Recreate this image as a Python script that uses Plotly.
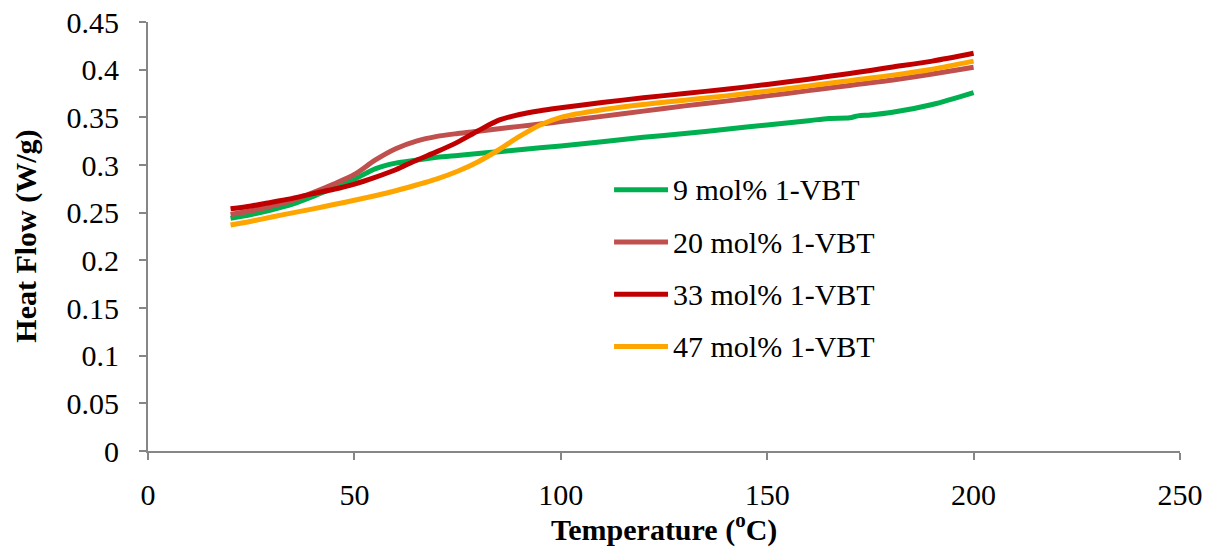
import plotly.graph_objects as go

# DSC heat-flow traces for four 1-VBT contents
temperature = [20, 25, 30, 35, 40, 45, 50, 55, 60, 65, 70, 75, 80, 85, 90, 95,
               100, 110, 120, 130, 140, 150, 160, 165, 170, 172, 175, 180, 190, 200]

hf_9 = [0.244, 0.248, 0.253, 0.259, 0.267, 0.276, 0.285, 0.296, 0.302, 0.305,
        0.308, 0.310, 0.312, 0.314, 0.316, 0.318, 0.320, 0.3245, 0.329, 0.333,
        0.3375, 0.342, 0.3465, 0.3488, 0.3495, 0.3515, 0.3525, 0.355, 0.3635, 0.376]

hf_20 = [0.248, 0.252, 0.257, 0.263, 0.271, 0.280, 0.290, 0.305, 0.317, 0.325,
         0.330, 0.333, 0.3355, 0.338, 0.3405, 0.343, 0.3455, 0.351, 0.3565, 0.362,
         0.367, 0.3725, 0.378, 0.3807, 0.3835, 0.3846, 0.3863, 0.389, 0.3955, 0.4025]

hf_33 = [0.254, 0.257, 0.261, 0.265, 0.270, 0.2745, 0.280, 0.287, 0.295, 0.305,
         0.314, 0.324, 0.336, 0.347, 0.353, 0.357, 0.360, 0.3655, 0.3705, 0.375,
         0.3795, 0.3845, 0.390, 0.393, 0.396, 0.3973, 0.3992, 0.4025, 0.409, 0.4172]

hf_47 = [0.237, 0.241, 0.2455, 0.2498, 0.254, 0.2585, 0.263, 0.2678, 0.273, 0.279,
         0.2855, 0.2935, 0.3035, 0.316, 0.330, 0.342, 0.350, 0.358, 0.3635, 0.368,
         0.3725, 0.3775, 0.383, 0.3857, 0.3885, 0.3896, 0.3913, 0.394, 0.4005, 0.409]

series_names = ["9 mol% 1-VBT", "20 mol% 1-VBT", "33 mol% 1-VBT", "47 mol% 1-VBT"]
series_values = [hf_9, hf_20, hf_33, hf_47]
series_colors = ["#00B050", "#C0504D", "#C00000", "#FFA500"]

x_ticks = [0, 50, 100, 150, 200, 250]
y_ticks = [0, 0.05, 0.1, 0.15, 0.2, 0.25, 0.3, 0.35, 0.4, 0.45]
y_tick_text = ["0", "0.05", "0.1", "0.15", "0.2", "0.25", "0.3", "0.35", "0.4", "0.45"]

x_title = "<b>Temperature (<sup>o</sup>C)</b>"
y_title = "<b>Heat Flow (W/g)</b>"

FONT = "Liberation Serif, Times New Roman, serif"
AXIS_GREY = "#868686"

fig = go.Figure()
for name, vals, col in zip(series_names, series_values, series_colors):
    fig.add_trace(go.Scatter(
        x=temperature, y=vals, mode="lines", name=name,
        line=dict(color=col, width=5, shape="spline", smoothing=0.8),
        showlegend=False,
    ))

# Legend drawn as sample lines plus text labels
legend_x0, legend_x1 = 0.4516, 0.5039
legend_top = 0.6087
legend_step = 0.1217
for i, (name, col) in enumerate(zip(series_names, series_colors)):
    yy = legend_top - i * legend_step
    fig.add_shape(type="line", xref="paper", yref="paper",
                  x0=legend_x0, x1=legend_x1, y0=yy, y1=yy,
                  line=dict(color=col, width=5))
    fig.add_annotation(xref="paper", yref="paper", x=legend_x1 + 0.003, y=yy,
                       text=name, showarrow=False, xanchor="left", yanchor="middle",
                       font=dict(family=FONT, size=30, color="black"))

# Axis titles
fig.add_annotation(xref="paper", yref="paper", x=0.5, y=-0.178, text=x_title,
                   showarrow=False, xanchor="center", yanchor="middle",
                   font=dict(family=FONT, size=30, color="black"))
fig.add_annotation(xref="paper", yref="paper", x=-0.119, y=0.5, text=y_title,
                   showarrow=False, xanchor="center", yanchor="middle", textangle=-90,
                   font=dict(family=FONT, size=30, color="black"))

fig.update_layout(
    width=1209, height=548,
    margin=dict(l=148, r=29, t=22, b=97, autoexpand=False),
    paper_bgcolor="white", plot_bgcolor="white",
    font=dict(family=FONT, size=30, color="black"),
)

fig.update_xaxes(
    range=[0, 250], tickvals=x_ticks, ticktext=[str(v) for v in x_ticks],
    showgrid=False, zeroline=False, showline=True, linecolor=AXIS_GREY, linewidth=2,
    ticks="outside", ticklen=7, tickwidth=2, tickcolor=AXIS_GREY,
    ticklabelstandoff=9, automargin=False,
    tickfont=dict(family=FONT, size=30, color="black"),
)
fig.update_yaxes(
    range=[0, 0.45], tickvals=y_ticks, ticktext=y_tick_text,
    showgrid=False, zeroline=False, showline=True, linecolor=AXIS_GREY, linewidth=2,
    ticks="outside", ticklen=7, tickwidth=2, tickcolor=AXIS_GREY,
    ticklabelstandoff=14, automargin=False,
    tickfont=dict(family=FONT, size=30, color="black"),
)

fig.write_html("out.html")
